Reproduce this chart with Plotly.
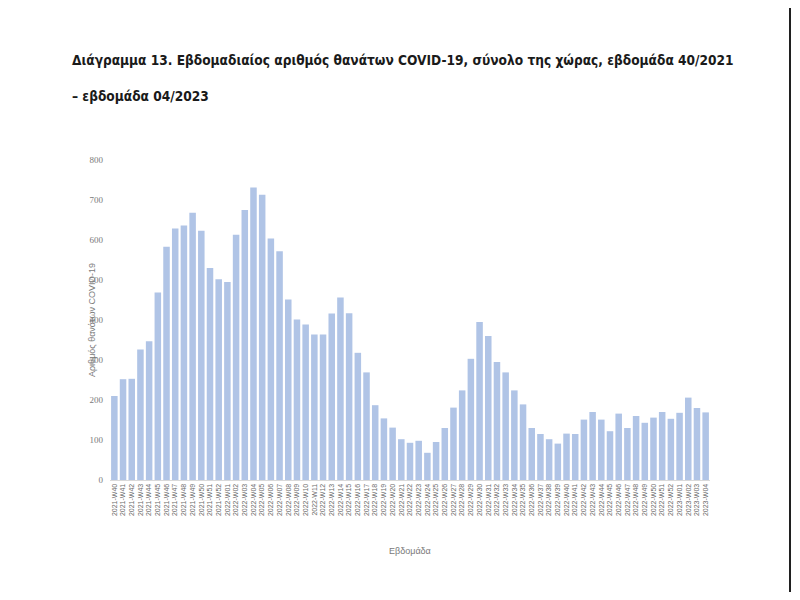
import plotly.graph_objects as go

weeks = (
    [f"2021-W{w:02d}" for w in range(40, 53)]
    + [f"2022-W{w:02d}" for w in range(1, 53)]
    + [f"2023-W{w:02d}" for w in range(1, 5)]
)

deaths = [
    210, 252, 253, 326, 347, 469, 583, 629, 636, 668, 623, 530, 502,
    495, 613, 675, 731, 713, 604, 572, 451, 401, 389, 364, 364, 416,
    456, 417, 318, 269, 187, 154, 131, 102, 93, 98, 68, 95, 130, 181,
    224, 303, 395, 360, 295, 269, 224, 189, 130, 115, 102, 91, 116,
    115, 151, 170, 151, 122, 166, 130, 160, 143, 156, 170, 153,
    168, 206, 180, 169,
]

title_line1 = "Διάγραμμα 13. Εβδομαδιαίος αριθμός θανάτων COVID-19, σύνολο της χώρας, εβδομάδα 40/2021"
title_line2 = "– εβδομάδα 04/2023"
y_title = "Αριθμός θανάτων COVID-19"
x_title = "Εβδομάδα"

OFF = 8  # page body margin
W, H = 784, 584
L, R, T, B = 110 - OFF, W - (710 - OFF), 160 - OFF, H - (480 - OFF)
PW, PH = W - L - R, H - T - B


def px(x):
    return (x - OFF - L) / PW


def py(y):
    return (H - B - (y - OFF)) / PH


fig = go.Figure(
    go.Bar(
        x=weeks,
        y=deaths,
        marker=dict(color="#b0c4e6", line=dict(width=0)),
    )
)

fig.update_layout(
    width=W,
    height=H,
    margin=dict(l=L, r=R, t=T, b=B),
    paper_bgcolor="white",
    plot_bgcolor="white",
    bargap=0.25,
    showlegend=False,
    font=dict(family="Liberation Sans, Arial", color="#595959"),
)

fig.update_xaxes(
    type="category",
    tickmode="array",
    tickvals=weeks,
    ticktext=weeks,
    tickangle=-90,
    tickfont=dict(size=7, color="#6a6a6a"),
    showgrid=False,
    showline=True,
    linecolor="#d9d9d9",
    linewidth=1,
    ticks="",
    automargin=False,
)
fig.update_yaxes(
    range=[0, 800],
    dtick=100,
    tickfont=dict(size=9, color="#7a7a7a", family="Liberation Serif, serif"),
    showgrid=False,
    zeroline=False,
    showline=False,
    ticks="",
    ticklabelstandoff=6,
    automargin=False,
)

title_font = dict(size=13.6, color="#1a1a1a", family="DejaVu Sans Condensed, DejaVu Sans, Arial")
fig.add_annotation(
    text="<b>" + title_line1 + "</b>", xref="paper", yref="paper", x=px(70), y=py(60),
    xanchor="left", yanchor="middle", showarrow=False, font=title_font,
)
fig.add_annotation(
    text="<b>" + title_line2 + "</b>", xref="paper", yref="paper", x=px(70), y=py(96),
    xanchor="left", yanchor="middle", showarrow=False, font=title_font,
)
fig.add_annotation(
    text=y_title, xref="paper", yref="paper", x=px(92), y=py(320),
    xanchor="center", yanchor="middle", textangle=-90, showarrow=False,
    font=dict(size=9, color="#7a7a7a"),
)
fig.add_annotation(
    text=x_title, xref="paper", yref="paper", x=px(410), y=py(551),
    xanchor="center", yanchor="middle", showarrow=False,
    font=dict(size=9, color="#7a7a7a"),
)

fig.add_shape(
    type="line", xref="paper", yref="paper",
    x0=px(790), x1=px(790), y0=py(8), y1=py(592),
    line=dict(color="#202020", width=2),
)

fig.write_html("out.html")
